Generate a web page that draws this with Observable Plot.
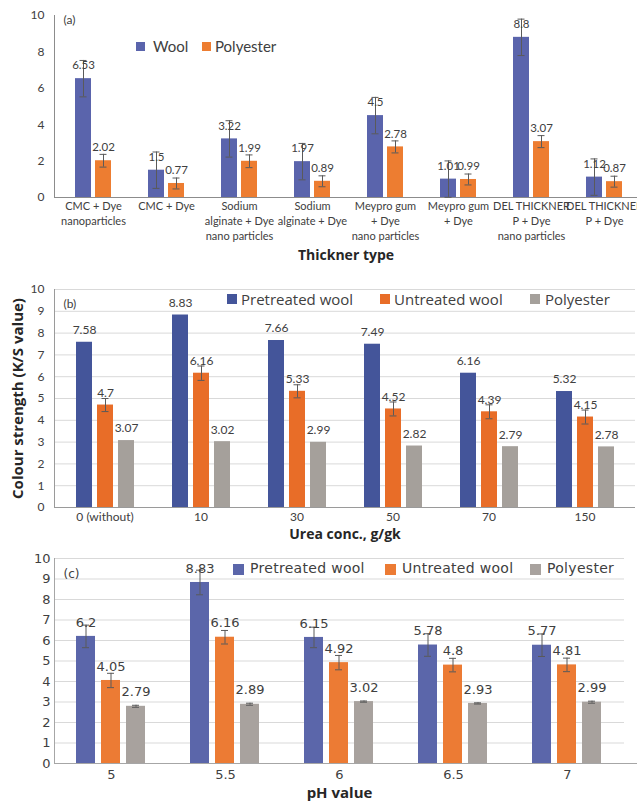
<!DOCTYPE html>
<html><head><meta charset="utf-8">
<script src="https://cdn.jsdelivr.net/npm/d3@7"></script>
<script src="https://cdn.jsdelivr.net/npm/@observablehq/plot@0.6"></script>
<style>
html,body{margin:0;padding:0;background:#fff;overflow:hidden;}
#root{position:relative;width:637px;height:804px;overflow:hidden;background:#fff;}
.panel{position:absolute;left:0;}
.lg{position:absolute;white-space:nowrap;color:#404040;}
.sw{position:absolute;}
</style></head><body><div id="root"></div>
<script>
// ---------- Panel (a) data ----------
const aCats = ["CMC + Dye\nnanoparticles", "CMC + Dye", "Sodium\nalginate + Dye\nnano particles", "Sodium\nalginate + Dye", "Meypro gum\n+ Dye\nnano particles", "Meypro gum\n+ Dye", "DEL THICKNER\nP + Dye\nnano particles", "DEL THICKNER\nP + Dye"];
const aSeries = ["Wool", "Polyester"];
const aWool = [6.53, 1.5, 3.22, 1.97, 4.5, 1.01, 8.8, 1.12];
const aPoly = [2.02, 0.77, 1.99, 0.89, 2.78, 0.99, 3.07, 0.87];
const aWoolErr = [1.0, 1.0, 1.0, 1.0, 1.0, 1.0, 1.0, 1.0];
const aPolyErr = [0.35, 0.3, 0.35, 0.3, 0.33, 0.3, 0.33, 0.3];
const aTicks = [0, 2, 4, 6, 8, 10];

// ---------- Panel (b) data ----------
const bCats = ["0 (without)", "10", "30", "50", "70", "150"];
const bSeries = ["Pretreated wool", "Untreated wool", "Polyester"];
const bPre = [7.58, 8.83, 7.66, 7.49, 6.16, 5.32];
const bUn = [4.7, 6.16, 5.33, 4.52, 4.39, 4.15];
const bPoly = [3.07, 3.02, 2.99, 2.82, 2.79, 2.78];
const bUnErr = [0.3, 0.33, 0.3, 0.32, 0.32, 0.32];
const bTicks = [0, 1, 2, 3, 4, 5, 6, 7, 8, 9, 10];

// ---------- Panel (c) data ----------
const cCats = ["5", "5.5", "6", "6.5", "7"];
const cSeries = ["Pretreated wool", "Untreated wool", "Polyester"];
const cPre = [6.2, 8.83, 6.15, 5.78, 5.77];
const cUn = [4.05, 6.16, 4.92, 4.8, 4.81];
const cPoly = [2.79, 2.89, 3.02, 2.93, 2.99];
const cPreErr = [0.55, 0.6, 0.5, 0.55, 0.55];
const cUnErr = [0.35, 0.33, 0.35, 0.33, 0.33];
const cPolyErr = [0.05, 0.05, 0.03, 0.03, 0.05];
const cTicks = [0, 1, 2, 3, 4, 5, 6, 7, 8, 9, 10];

const root = document.getElementById("root");

function addSvg(svg, top) {
  const wrap = document.createElement("div");
  wrap.className = "panel";
  wrap.style.top = top + "px";
  wrap.appendChild(svg);
  root.appendChild(wrap);
}

function makePanel(o) {
  const rows = [];
  o.cats.forEach((c, i) => o.series.forEach((s, j) => rows.push({
    cat: c, series: s, value: o.values[j][i], err: o.errs[j] ? o.errs[j][i] : null
  })));
  const errRows = rows.filter(d => d.err != null);
  const common = {
    width: 637, height: o.height,
    marginTop: o.mt, marginBottom: o.mb, marginLeft: o.ml, marginRight: o.mr,
    style: {fontFamily: o.font, background: "transparent", overflow: "visible"},
    y: {domain: [0, 10]}
  };

  // background layer: grid, axes, titles
  const bg = [];
  if (o.grid) bg.push(Plot.ruleY(o.ticks.filter(t => t > 0), {stroke: "#D9D9D9", strokeWidth: 1}));
  bg.push(Plot.ruleY([0], {stroke: o.axisColor, insetRight: o.baseExtend || 0}));
  bg.push(Plot.frame({anchor: "left", stroke: o.axisColor}));
  bg.push(Plot.axisY({ticks: o.ticks, tickSize: 0, tickPadding: o.tickPad, fontSize: o.tickSize, label: null, color: "#404040", fontFamily: o.font}));
  bg.push(Plot.text([o.tag], {frameAnchor: "top-left", textAnchor: "start", dx: 9, dy: o.tagDy, fontSize: 12, fill: "#404040", fontFamily: o.font}));
  bg.push(Plot.text([o.xTitle], {frameAnchor: "bottom", textAnchor: "middle", lineAnchor: "middle", dy: o.xTitleDy, fontSize: o.xTitleSize, fontWeight: "bold", fill: "#262626", fontFamily: "Open Sans"}));
  if (o.yTitle) bg.push(Plot.text([o.yTitle], {frameAnchor: "left", textAnchor: "middle", lineAnchor: "middle", rotate: -90, dx: o.yTitleDx, fontSize: 15, fontWeight: "bold", fill: "#262626", fontFamily: "Open Sans"}));
  addSvg(Plot.plot({...common, marks: bg}), o.top);

  // foreground layer: grouped bars via facets
  const marks = [];
  marks.push(Plot.barY(rows, {fx: "cat", x: "series", y: "value", fill: "series"}));
  marks.push(Plot.ruleX(errRows, {fx: "cat", x: "series", y1: d => d.value - d.err, y2: d => d.value + d.err, stroke: "#5a5a5a", strokeWidth: 1}));
  marks.push(Plot.tickY(errRows, {fx: "cat", x: "series", y: d => d.value + d.err, stroke: "#5a5a5a", insetLeft: o.capInset, insetRight: o.capInset}));
  marks.push(Plot.tickY(errRows, {fx: "cat", x: "series", y: d => d.value - d.err, stroke: "#5a5a5a", insetLeft: o.capInset, insetRight: o.capInset}));
  marks.push(Plot.text(rows, {fx: "cat", x: "series", y: "value", text: d => String(d.value), dy: o.labelDy, fontSize: o.labelSize, fill: "#404040", fontFamily: o.font}));
  marks.push(Plot.text(o.cats, {fx: d => d, text: d => d, frameAnchor: "bottom", lineAnchor: "top", dy: o.catDy, lineHeight: o.catLH, fontSize: o.catSize, fill: "#404040", fontFamily: o.font}));
  addSvg(Plot.plot({
    ...common,
    style: {fontFamily: o.font, background: "transparent"},
    marginRight: o.mrBars,
    fx: {domain: o.cats, paddingInner: o.fxPadIn, paddingOuter: o.fxPadIn / 2, axis: null, label: null},
    x: {domain: o.series, paddingInner: o.xPadIn, paddingOuter: 0, axis: null, label: null},
    y: {domain: [0, 10], axis: null},
    color: {domain: o.series, range: o.colors},
    marks
  }), o.top);

  // legend
  o.series.forEach((s, j) => {
    const sw = document.createElement("div");
    sw.className = "sw";
    sw.style.left = o.legend.sw[j] + "px";
    sw.style.top = (o.legend.y - o.legend.size / 2) + "px";
    sw.style.width = o.legend.size + "px";
    sw.style.height = o.legend.size + "px";
    sw.style.background = o.colors[j];
    root.appendChild(sw);
    const t = document.createElement("div");
    t.className = "lg";
    t.textContent = s;
    t.style.left = o.legend.tx[j] + "px";
    t.style.top = (o.legend.y - o.legend.fs * 0.62) + "px";
    t.style.fontSize = o.legend.fs + "px";
    t.style.lineHeight = "1.2";
    t.style.fontFamily = o.legend.font;
    t.style.letterSpacing = (o.legend.ls || 0) + "px";
    root.appendChild(t);
  });
}

makePanel({
  cats: aCats, series: aSeries, values: [aWool, aPoly], errs: [aWoolErr, aPolyErr],
  colors: ["#5A64AC", "#ED7D31"], ticks: aTicks, grid: false,
  top: 0, height: 265, mt: 15, mb: 68, ml: 54, mr: 0, mrBars: -5,
  fxPadIn: 0.483, xPadIn: 0.19, capInset: 4.5,
  labelDy: -13, labelSize: 11.5, font: "Lato",
  catDy: 2, catLH: 1.35, catSize: 11,
  tickPad: 10, tickSize: 12, axisColor: "#8c8c8c",
  tag: "(a)", tagDy: 0,
  xTitle: "Thickner type", xTitleDy: 58, xTitleSize: 14,
  legend: {y: 46, size: 9, fs: 15, font: "Lato", sw: [136, 202], tx: [153, 215]}
});

makePanel({
  cats: bCats, series: bSeries, values: [bPre, bUn, bPoly], errs: [null, bUnErr, null],
  colors: ["#44559A", "#E86D28", "#A5A09B"], ticks: bTicks, grid: true,
  top: 265, height: 275, mt: 24, mb: 33, ml: 54, mr: 2, mrBars: 2,
  fxPadIn: 0.385, xPadIn: 0.26, capInset: 4.5,
  labelDy: -12, labelSize: 12, font: "Lato",
  catDy: 3, catLH: 1.2, catSize: 12,
  tickPad: 10, tickSize: 12, axisColor: "#9a9a9a",
  tag: "(b)", tagDy: 10,
  xTitle: "Urea conc., g/gk", xTitleDy: 27, xTitleSize: 14,
  yTitle: "Colour strength (K/S value)", yTitleDx: -36,
  legend: {y: 299, size: 10, fs: 15, font: "Open Sans", sw: [227, 380, 530], tx: [241, 394, 545]}
});

makePanel({
  cats: cCats, series: cSeries, values: [cPre, cUn, cPoly], errs: [cPreErr, cUnErr, cPolyErr],
  colors: ["#5B66AA", "#EC7B34", "#A8A29E"], ticks: cTicks, grid: true,
  top: 540, height: 264, mt: 18, mb: 41, ml: 54, mr: 13, mrBars: 13,
  fxPadIn: 0.384, xPadIn: 0.23, capInset: 6,
  labelDy: -14, labelSize: 13, font: "DejaVu Sans",
  catDy: 4, catLH: 1.2, catSize: 13,
  tickPad: 4, tickSize: 13, axisColor: "#a6a6a6", baseExtend: -13,
  tag: "(c)", tagDy: 11,
  xTitle: "pH value", xTitleDy: 30, xTitleSize: 15,
  legend: {y: 569, size: 11, fs: 14, font: "DejaVu Sans", sw: [233, 385, 530], tx: [250, 402, 547], ls: 0.3}
});
</script>
</body></html>
